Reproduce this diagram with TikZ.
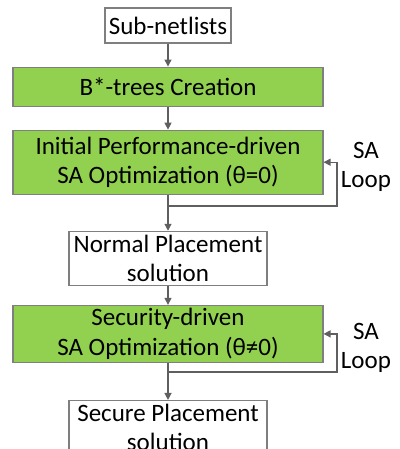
\documentclass[tikz,border=0pt]{standalone}
\usepackage{fontspec}
\setmainfont{Carlito}
\usetikzlibrary{positioning,arrows.meta}
\definecolor{stepgreen}{HTML}{92D050}
\definecolor{edgegray}{HTML}{7F7F7F}
\definecolor{arrowgray}{HTML}{5F5F5F}

\begin{document}
\begin{tikzpicture}[
    x=1pt, y=1pt,
    every node/.style={align=center, font=\fontsize{25}{29.5}\selectfont, inner sep=0pt},
    box/.style={draw=edgegray, line width=1.1pt},
    greenbox/.style={box, fill=stepgreen, minimum width=310pt}, % wide green steps
    whitebox/.style={box, fill=white, minimum width=198pt},
    arrow/.style={draw=arrowgray, line width=1.2pt, -{Triangle[length=7pt,width=7pt]}}
  ]
  \useasboundingbox (0,0) rectangle (399,-449);

  % Nodes
  \node[whitebox, minimum width=126pt, minimum height=35pt] (sub) at (168,-25.5) {Sub-netlists};
  \node[greenbox, minimum height=39pt, below=23pt of sub] (btree) {B*-trees Creation};
  \node[greenbox, minimum height=64pt, below=23pt of btree] (init) {Initial Performance-driven\\SA Optimization (θ=0)};
  \node[whitebox, minimum height=54pt, below=36pt of init] (normal) {Normal Placement\\solution};
  \node[greenbox, minimum height=57pt, below=19pt of normal] (security) {Security-driven\\SA Optimization (θ≠0)};
  \node[whitebox, minimum height=54pt, below=37pt of security] (final) {Secure Placement\\solution};
  \coordinate (loop1) at (337,-206);
  \coordinate (loop2) at (337,-372);
  \node (salabel1) at (366,-167) {SA\\Loop};
  \node (salabel2) at (366,-348) {SA\\Loop};

  % Edges
  \draw[arrow] (sub) -- (btree);
  \draw[arrow] (btree) -- (init);
  \draw[arrow] (init) -- (normal);
  \draw[arrow] (normal) -- (security);
  \draw[arrow] (security) -- (final);
  \draw[arrow] (init.south) |- (loop1) |- (init.east);
  \draw[arrow] (security.south) |- (loop2) |- (security.east);

\end{tikzpicture}
\end{document}
